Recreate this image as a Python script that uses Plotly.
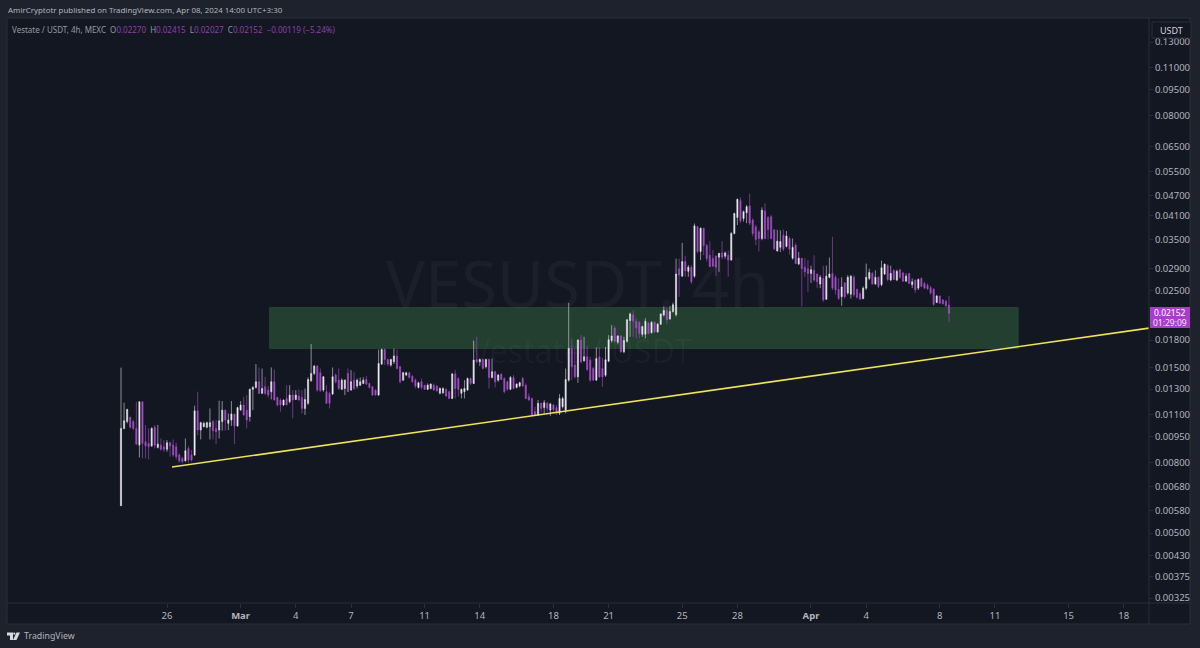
import pandas as pd
import plotly.graph_objects as go

# 4h candles
opens = [
    .00600,.01002,.01048,.01078,.01048,.01002,.00897,.01196,.00917,.00907,
    .00891,.01009,.00883,.00897,.00887,.00872,.00911,.00897,.00887,.00840,
    .00821,.00808,.00877,.00840,.00840,.01126,.00991,.01013,.01009,.01013,
    .01048,.01002,.00991,.01048,.01131,.01036,.01059,.01102,.01018,.01131,
    .01170,.01131,.01083,.01298,.01315,.01365,.01264,.01321,.01292,.01278,
    .01365,.01230,.01209,.01170,.01222,.01196,.01250,.01214,.01242,.01230,
    .01144,.01183,.01374,.01443,.01515,.01449,.01292,.01278,.01264,.01258,
    .01427,.01380,.01298,.01305,.01443,.01292,.01380,.01327,.01335,.01350,
    .01386,.01350,.01321,.01292,.01250,.01535,.01691,.01582,.01525,.01559,
    .01619,.01508,.01380,.01427,.01449,.01417,.01380,.01315,.01365,.01335,
    .01298,.01306,.01335,.01327,.01264,.01270,.01298,.01278,.01222,.01437,
    .01395,.01264,.01278,.01292,.01395,.01350,.01582,.01559,.01582,.01508,
    .01582,.01405,.01459,.01380,.01437,.01395,.01365,.01298,.01405,.01315,
    .01327,.01395,.01335,.01236,.01222,.01119,.01095,.01183,.01150,.01183,
    .01131,.01170,.01150,.01107,.01157,.01131,.01380,.01703,.01525,.01411,
    .01800,.01569,.01612,.01576,.01491,.01380,.01610,.01490,.01425,.01565,
    .01795,.01950,.01775,.01850,.01665,.01785,.02050,.02130,.02040,.02025,
    .01870,.01870,.02015,.01890,.02025,.01900,.02000,.02125,.02190,.02070,
    .02175,.02130,.02890,.02750,.03030,.02840,.02920,.02750,.03820,.03240,
    .03780,.03370,.03160,.03090,.03140,.03120,.03210,.03140,.03160,.03060,
    .03650,.04060,.04540,.04030,.04190,.04380,.03990,.03820,.03690,.03530,
    .04240,.04060,.04080,.03740,.03250,.03330,.03610,.03350,.03530,.03100,
    .03380,.02980,.03100,.02920,.02890,.02800,.02860,.02790,.02610,.02710,
    .02360,.02730,.02800,.02730,.02520,.02400,.02630,.02460,.02440,.02730,
    .02520,.02450,.02370,.02540,.02710,.02800,.02610,.02730,.02600,.02790,
    .02950,.02680,.02860,.02680,.02870,.02810,.02660,.02800,.02600,.02680,
    .02540,.02710,.02620,.02590,.02550,.02520,.02310,.02410,.02350,.02330,
    .02270,
]
highs = [
    .01500,.01188,.01142,.01083,.01059,.01196,.01196,.01196,.01025,.01002,
    .01009,.01025,.01025,.00937,.00927,.00927,.00917,.00931,.00911,.00849,
    .00830,.00937,.00891,.00868,.01165,.01278,.01048,.01048,.01048,.01144,
    .01059,.01059,.01204,.01201,.01136,.01107,.01201,.01102,.01157,.01201,
    .01236,.01250,.01305,.01327,.01535,.01501,.01491,.01411,.01327,.01501,
    .01481,.01236,.01222,.01214,.01335,.01335,.01292,.01292,.01298,.01292,
    .01305,.01405,.01753,.01525,.01525,.01491,.01417,.01335,.01278,.01501,
    .01443,.01491,.01396,.01386,.01491,.01475,.01459,.01395,.01405,.01405,
    .01417,.01356,.01327,.01298,.01691,.01703,.01703,.01592,.01592,.01703,
    .01691,.01515,.01459,.01459,.01459,.01427,.01395,.01365,.01395,.01335,
    .01350,.01350,.01350,.01335,.01315,.01315,.01306,.01286,.01449,.01475,
    .01405,.01306,.01380,.01405,.01405,.01792,.01840,.01592,.01592,.01592,
    .01592,.01592,.01468,.01437,.01443,.01405,.01374,.01417,.01427,.01350,
    .01365,.01411,.01350,.01264,.01228,.01157,.01209,.01188,.01209,.01196,
    .01188,.01178,.01170,.01258,.01236,.01491,.02305,.01820,.01703,.01808,
    .01860,.01840,.01730,.01612,.01508,.01714,.01720,.01600,.01720,.01860,
    .01990,.01980,.01860,.01860,.01840,.02070,.02160,.02190,.02080,.02040,
    .01980,.02080,.02025,.02040,.02040,.02015,.02150,.02250,.02225,.02260,
    .02310,.03090,.03090,.03430,.03150,.02960,.02960,.03900,.03840,.03800,
    .03790,.03410,.03470,.03270,.03160,.03210,.03470,.03240,.03260,.03690,
    .04190,.04600,.04640,.04250,.04410,.04760,.04040,.03870,.03740,.04340,
    .04460,.04100,.04130,.03760,.03740,.03730,.03750,.03710,.03570,.03530,
    .03420,.03230,.03100,.03100,.03060,.02950,.03160,.02800,.02770,.02950,
    .02950,.03110,.03570,.02770,.02710,.02730,.02650,.02770,.02770,.02770,
    .02530,.02480,.02570,.02990,.02890,.02830,.02860,.02750,.03050,.02990,
    .02980,.02950,.02880,.02870,.02890,.02830,.02800,.02810,.02710,.02690,
    .02710,.02730,.02650,.02620,.02580,.02540,.02430,.02420,.02360,.02350,
    .02415,
]
lows = [
    .00600,.00995,.01036,.01002,.00991,.00897,.00826,.00821,.00821,.00815,
    .00887,.00877,.00877,.00864,.00858,.00858,.00830,.00830,.00815,.00798,
    .00795,.00804,.00798,.00804,.00834,.00958,.00931,.01009,.01002,.00931,
    .00931,.00903,.00937,.00987,.00987,.00991,.01018,.00903,.01013,.01131,
    .01090,.01002,.01048,.01131,.01305,.01258,.01258,.01250,.01230,.01214,
    .01204,.01157,.01119,.01162,.01170,.01183,.01071,.01209,.01204,.01107,
    .01095,.01170,.01365,.01427,.01278,.01278,.01278,.01178,.01144,.01250,
    .01350,.01292,.01292,.01250,.01278,.01286,.01292,.01306,.01327,.01344,
    .01335,.01306,.01242,.01244,.01244,.01525,.01525,.01515,.01508,.01535,
    .01481,.01350,.01374,.01417,.01395,.01356,.01306,.01306,.01298,.01292,
    .01292,.01298,.01286,.01278,.01256,.01258,.01236,.01217,.01217,.01222,
    .01236,.01222,.01222,.01286,.01335,.01344,.01542,.01515,.01481,.01491,
    .01306,.01395,.01315,.01365,.01380,.01264,.01286,.01292,.01298,.01306,
    .01315,.01321,.01217,.01204,.01090,.01088,.01088,.01113,.01107,.01119,
    .01088,.01119,.01095,.01095,.01144,.01107,.01365,.01380,.01395,.01356,
    .01542,.01559,.01468,.01365,.01374,.01374,.01400,.01320,.01410,.01555,
    .01770,.01770,.01750,.01655,.01650,.01770,.01840,.01840,.01820,.01820,
    .01840,.01820,.01870,.01880,.01890,.01890,.01990,.02105,.02000,.02060,
    .02160,.02105,.02395,.02740,.02740,.02740,.02610,.02720,.03200,.03060,
    .03160,.03030,.02920,.02920,.02750,.02830,.03070,.03090,.02740,.03050,
    .03630,.03860,.03910,.03950,.03910,.03860,.03580,.03380,.03240,.03490,
    .03510,.03510,.03510,.03270,.03240,.03230,.03250,.03330,.03170,.03070,
    .02980,.02960,.02250,.02740,.02480,.02630,.02650,.02540,.02540,.02320,
    .02350,.02710,.02510,.02430,.02350,.02260,.02370,.02430,.02370,.02400,
    .02370,.02360,.02360,.02510,.02680,.02600,.02600,.02540,.02570,.02770,
    .02660,.02660,.02680,.02660,.02700,.02650,.02650,.02610,.02540,.02460,
    .02510,.02560,.02530,.02510,.02430,.02260,.02300,.02290,.02280,.02240,
    .02027,
]
closes = [
    .01002,.01054,.01136,.01009,.01002,.00903,.01196,.00907,.00891,.00887,
    .01002,.00897,.00903,.00872,.00872,.00911,.00891,.00840,.00830,.00808,
    .00804,.00864,.00812,.00812,.01126,.00991,.01041,.01036,.01041,.01041,
    .00987,.00980,.01054,.01131,.01059,.01059,.01102,.01018,.01150,.01170,
    .01095,.01059,.01298,.01315,.01365,.01264,.01305,.01264,.01250,.01365,
    .01209,.01170,.01170,.01209,.01170,.01250,.01209,.01250,.01209,.01144,
    .01214,.01386,.01443,.01515,.01292,.01286,.01411,.01183,.01183,.01411,
    .01365,.01305,.01380,.01380,.01278,.01365,.01306,.01380,.01365,.01380,
    .01344,.01315,.01250,.01250,.01542,.01691,.01582,.01535,.01582,.01619,
    .01491,.01365,.01449,.01449,.01405,.01365,.01327,.01356,.01315,.01298,
    .01335,.01344,.01292,.01286,.01306,.01306,.01242,.01222,.01437,.01306,
    .01298,.01298,.01306,.01395,.01350,.01576,.01559,.01582,.01491,.01582,
    .01405,.01459,.01365,.01427,.01386,.01278,.01298,.01405,.01306,.01344,
    .01356,.01327,.01222,.01209,.01095,.01095,.01183,.01144,.01188,.01144,
    .01178,.01136,.01107,.01222,.01222,.01386,.01703,.01508,.01411,.01800,
    .01559,.01612,.01481,.01380,.01380,.01592,.01410,.01410,.01580,.01805,
    .01850,.01785,.01850,.01665,.01795,.02060,.02140,.02040,.01950,.01880,
    .01970,.02040,.01880,.02025,.01900,.02000,.02140,.02190,.02060,.02175,
    .02275,.02790,.02770,.03030,.02850,.02920,.02650,.03840,.03240,.03780,
    .03370,.03090,.02930,.02940,.02920,.03200,.03120,.03210,.03060,.03650,
    .04170,.04580,.03970,.04220,.04360,.03910,.03650,.03510,.03530,.04260,
    .03530,.03750,.03530,.03300,.03470,.03460,.03290,.03590,.03290,.03330,
    .02990,.03100,.02890,.02830,.02800,.02870,.02680,.02650,.02730,.02350,
    .02750,.02790,.02540,.02510,.02370,.02560,.02400,.02730,.02750,.02430,
    .02390,.02360,.02540,.02730,.02820,.02610,.02730,.02570,.02910,.02980,
    .02690,.02800,.02690,.02840,.02730,.02660,.02750,.02620,.02650,.02510,
    .02690,.02570,.02540,.02530,.02460,.02280,.02410,.02300,.02290,.02260,
    .02152,
]
times = pd.date_range("2024-02-23 12:00", periods=len(closes), freq="4h")

zone_start, zone_end = "2024-03-02 13:00", "2024-04-12 07:00"
zone_low, zone_high = 0.01696, 0.0224
trend_x = ["2024-02-26 06:30", "2024-04-19 08:53"]
trend_y = [0.007755, 0.01949]

price_ticks = [0.13, 0.11, 0.095, 0.08, 0.065, 0.055, 0.047, 0.041, 0.035, 0.029, 0.025,
               0.018, 0.015, 0.013, 0.011, 0.0095, 0.008, 0.0068, 0.0058, 0.005, 0.0043,
               0.00375, 0.00325]
date_ticks = ["2024-02-26", "2024-03-01", "2024-03-04", "2024-03-07", "2024-03-11", "2024-03-14",
              "2024-03-18", "2024-03-21", "2024-03-25", "2024-03-28", "2024-04-01", "2024-04-04",
              "2024-04-08", "2024-04-11", "2024-04-15", "2024-04-18"]
date_labels = ["26", "<b>Mar</b>", "4", "7", "11", "14", "18", "21", "25", "28", "<b>Apr</b>", "4",
               "8", "11", "15", "18"]

FONT = "Noto Sans"
BG = "#131722"
OUTER = "#1e222d"
BORDER = "#2a2e39"
TEXT = "#b2b5be"
PURPLE = "#a64fc8"
WHITE = "#ece9f2"

# pixel position in the 1200x648 page -> paper coordinates
L, R, T, B = 7, 1149, 18, 603
def px(x):
    return (x - L) / (R - L)
def py(y):
    return (B - y) / (B - T)

fig = go.Figure()
fig.add_trace(go.Candlestick(
    x=times, open=opens, high=highs, low=lows, close=closes,
    increasing=dict(line=dict(color="rgba(236,233,242,0.55)", width=1), fillcolor=WHITE),
    decreasing=dict(line=dict(color="rgba(166,79,200,0.6)", width=1), fillcolor=PURPLE),
    whiskerwidth=0, showlegend=False, hoverinfo="skip",
))
fig.add_trace(go.Scatter(
    x=trend_x, y=trend_y, mode="lines",
    line=dict(color="#eee25a", width=1.6), showlegend=False, hoverinfo="skip",
))

shapes = [
    # chart panel + price column
    dict(type="rect", xref="paper", yref="paper", x0=px(7), x1=px(1190), y0=py(18), y1=py(624),
         fillcolor=BG, line=dict(color=BORDER, width=1), layer="below"),
    dict(type="line", xref="paper", yref="paper", x0=px(1149), x1=px(1149), y0=py(18), y1=py(624),
         line=dict(color=BORDER, width=1)),
    dict(type="line", xref="paper", yref="paper", x0=px(7), x1=px(1190), y0=py(603), y1=py(603),
         line=dict(color=BORDER, width=1)),
    # green zone
    dict(type="rect", xref="x", yref="y", x0=zone_start, x1=zone_end, y0=zone_low, y1=zone_high,
         fillcolor="#223f2f", line=dict(width=0), layer="below"),
    # USDT button
    dict(type="rect", xref="paper", yref="paper", x0=px(1152), x1=px(1191), y0=py(22), y1=py(38),
         fillcolor=BG, line=dict(color=BORDER, width=1)),
    # last price tag
    dict(type="rect", xref="paper", yref="paper", x0=px(1150), x1=px(1190), y0=py(307), y1=py(328),
         fillcolor="#a63fc6", line=dict(width=0)),
    # TradingView logo
    dict(type="path", xref="paper", yref="paper", line=dict(width=0), fillcolor="#d8dae0",
         path=f"M{px(7)},{py(632.5)} L{px(13)},{py(632.5)} L{px(13)},{py(640)} L{px(10)},{py(640)} "
              f"L{px(10)},{py(635.5)} L{px(7)},{py(635.5)} Z"),
    dict(type="path", xref="paper", yref="paper", line=dict(width=0), fillcolor="#d8dae0",
         path=f"M{px(16.5)},{py(632.5)} L{px(20)},{py(632.5)} L{px(16.5)},{py(640)} L{px(13)},{py(640)} Z"),
    dict(type="circle", xref="paper", yref="paper", x0=px(13.2), x1=px(15.4), y0=py(632.6), y1=py(634.8),
         fillcolor="#d8dae0", line=dict(width=0)),
]

def note(x, y, text, size, color=TEXT, anchor="left"):
    return dict(xref="paper", yref="paper", x=px(x), y=py(y), text=text, showarrow=False,
                xanchor=anchor, yanchor="middle", align=anchor,
                font=dict(family=FONT, size=size, color=color))

legend_vals = ("Vestate / USDT, 4h, MEXC&nbsp; O<span style='color:#8f3fa8'>0.02270</span>&nbsp; "
               "H<span style='color:#8f3fa8'>0.02415</span>&nbsp; L<span style='color:#8f3fa8'>0.02027</span>&nbsp; "
               "C<span style='color:#8f3fa8'>0.02152</span>&nbsp; <span style='color:#8f3fa8'>\u22120.00119 (\u22125.24%)</span>")
annotations = [
    note(577, 283, "VESUSDT, 4h", 65, "rgba(255,255,255,0.035)", "center"),
    note(581, 350, "Vestate / USDT", 32, "rgba(255,255,255,0.035)", "center"),
    note(5.5, 10, "AmirCryptotr published on TradingView.com, Apr 08, 2024 14:00 UTC+3:30", 7.9, "#b2b5be"),
    note(10, 29, legend_vals, 8, "#9598a1"),
    note(1171, 30, "USDT", 9, "#d1d4dc", "center"),
    note(1170, 312.5, "0.02152", 8.5, "#ffffff", "center"),
    note(1170, 322.5, "01:29:09", 8.5, "#f0e0f5", "center"),
    note(21.5, 636, "TradingView", 8.8, "#b2b5be"),
]

fig.update_layout(
    width=1200, height=648,
    margin=dict(l=L, r=1200 - R, t=T, b=648 - B),
    paper_bgcolor=OUTER, plot_bgcolor=BG,
    showlegend=False, boxgap=0.45,
    shapes=shapes, annotations=annotations,
    font=dict(family=FONT, color=TEXT, size=10),
    xaxis=dict(
        type="date", range=["2024-02-17 07:18", "2024-04-19 08:53"],
        rangeslider=dict(visible=False), showgrid=False, zeroline=False,
        tickmode="array", tickvals=date_ticks, ticktext=date_labels,
        ticks="outside", ticklen=4, tickcolor=BORDER, tickfont=dict(size=9.5, family=FONT, color=TEXT),
    ),
    yaxis=dict(
        type="log", side="right", range=[-2.5022, -0.8168],
        showgrid=False, zeroline=False,
        tickmode="array", tickvals=price_ticks, tickformat=".5f",
        ticks="outside", ticklen=3, tickcolor=BORDER, tickfont=dict(size=9.5, family=FONT, color=TEXT),
    ),
)

# the browser's default body margin would push the fixed-size figure off the page
fig.write_html("out.html", config=dict(displayModeBar=False), post_script="document.body.style.margin='0';")
